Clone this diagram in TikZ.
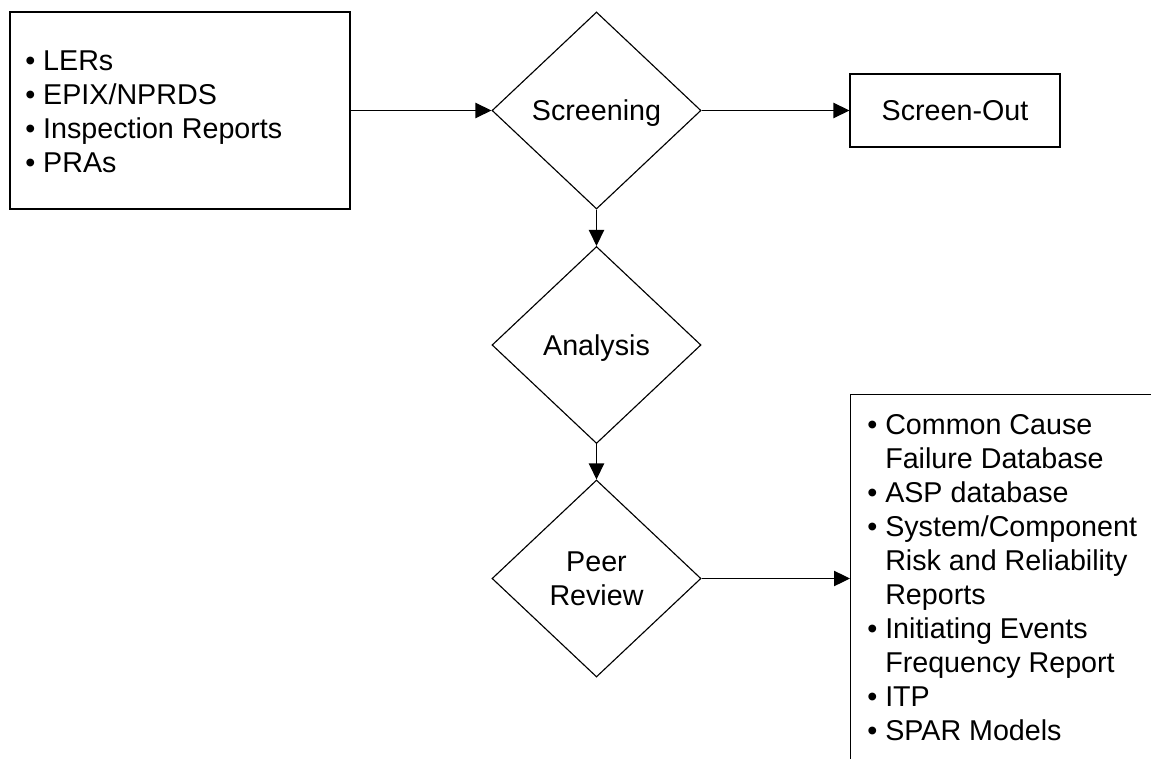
\documentclass[tikz,border=0pt]{standalone}
\usepackage{fontspec}
\setmainfont{Liberation Sans}
\usetikzlibrary{shapes.geometric,arrows.meta}
\newcommand\blt{\strut•\ }
\newcommand\hind{\strut\hphantom{•\ }}
\begin{document}
\begin{tikzpicture}[x=0.75pt,y=-0.75pt,
  every node/.style={font=\fontsize{21.5}{25.5}\selectfont},
  boxshape/.style={draw,line width=0.85pt,rectangle,inner sep=0pt},
  decision/.style={draw,line width=0.85pt,diamond,inner sep=0pt,minimum width=156.75pt,minimum height=147.75pt,align=center,text depth=0pt},
  listtext/.style={inner sep=0pt,anchor=north west,align=left},
  flow/.style={line width=0.85pt,-{Triangle[length=12pt,width=11.5pt]}}]
\useasboundingbox (0,0) rectangle (1151,759);
\clip (0,0) rectangle (1151,759);
% boxes
\node[boxshape,minimum width=255pt,minimum height=147.75pt] (src) at (180,110.5) {};
\node[listtext] (srctext) at (25,46.2) {\blt LERs\\ \blt EPIX/NPRDS\\ \blt Inspection Reports\\ \blt PRAs};
\node[boxshape,minimum width=157.5pt,minimum height=54.75pt,text depth=0pt] (out) at (955,110.5) {Screen-Out};
\node[boxshape,minimum width=240pt,minimum height=300pt,anchor=north west] (prod) at (850,394) {};
\node[listtext] (prodtext) at (867,410.2) {\blt Common Cause\\ \hind Failure Database\\ \blt ASP database\\ \blt System/Component\\ \hind Risk and Reliability\\ \hind Reports\\ \blt Initiating Events\\ \hind Frequency Report\\ \blt ITP\\ \blt SPAR Models};
% decisions
\node[decision] (scr) at (596.5,110.5) {Screening};
\node[decision] (ana) at (596.5,345) {Analysis};
\node[decision] (peer) at (596.5,578.5) {Peer\\Review};
% connectors
\draw[flow] (src.east) -- (scr.west);
\draw[flow] (scr.east) -- (out.west);
\draw[flow] (scr.south) -- (ana.north);
\draw[flow] (ana.south) -- (peer.north);
\draw[flow] (peer.east) -- (peer.east -| prod.west);
\end{tikzpicture}
\end{document}
